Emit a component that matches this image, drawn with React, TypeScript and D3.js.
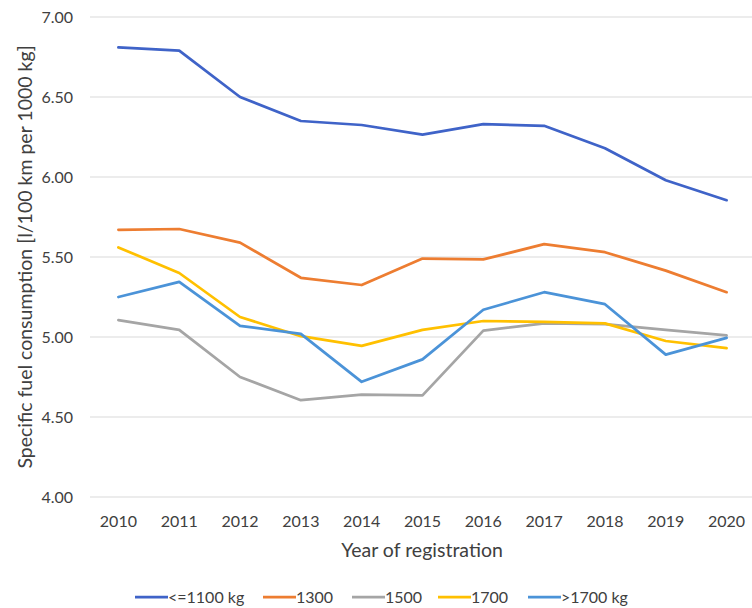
import React, {useEffect, useRef} from 'react'
import * as d3 from 'd3'

const years = ['2010', '2011', '2012', '2013', '2014', '2015', '2016', '2017', '2018', '2019', '2020'];
const yTicks = [4.0, 4.5, 5.0, 5.5, 6.0, 6.5, 7.0];

const seriesNames = ['<=1100 kg', '1300', '1500', '1700', '>1700 kg'];
const seriesColors = ['#3f63c8', '#ed7d31', '#a5a5a5', '#ffc000', '#4b93d8'];

const s1100 = [6.81, 6.79, 6.50, 6.35, 6.325, 6.265, 6.33, 6.32, 6.18, 5.98, 5.855];
const s1300 = [5.67, 5.675, 5.59, 5.37, 5.325, 5.49, 5.485, 5.58, 5.53, 5.415, 5.28];
const s1500 = [5.105, 5.045, 4.75, 4.605, 4.64, 4.635, 5.04, 5.085, 5.08, 5.045, 5.01];
const s1700 = [5.56, 5.40, 5.125, 5.005, 4.945, 5.045, 5.10, 5.095, 5.085, 4.975, 4.93];
const sOver = [5.25, 5.345, 5.07, 5.02, 4.72, 4.86, 5.17, 5.28, 5.205, 4.89, 4.995];

const seriesValues = [s1100, s1300, s1500, s1700, sOver];

const width = 752;
const height = 608;
const margin = ({top: 17, right: -5, bottom: 111, left: 88});
const font = 'Lato, "Open Sans", sans-serif';
const textColor = '#404040';

export default function App() {
    const ref = useRef<SVGSVGElement>(null);

    useEffect(() => {
        const svg = d3.select(ref.current);
        svg.selectAll('*').remove();

        const x = d3.scalePoint()
            .domain(years)
            .range([margin.left, width - margin.right])
            .padding(0.5);

        const y = d3.scaleLinear()
            .domain([4, 7])
            .range([height - margin.bottom, margin.top]);

        // gridlines
        svg.append('g')
            .selectAll('line')
            .data(yTicks)
            .join('line')
            .attr('x1', margin.left + 2)
            .attr('x2', width)
            .attr('y1', d => y(d))
            .attr('y2', d => y(d))
            .attr('stroke', '#d9d9d9')
            .attr('stroke-width', 1);

        // y tick labels
        svg.append('g')
            .selectAll('text')
            .data(yTicks)
            .join('text')
            .attr('x', 73)
            .attr('y', d => y(d))
            .attr('dy', '0.35em')
            .attr('text-anchor', 'end')
            .attr('font-family', font)
            .attr('font-size', 16)
            .attr('fill', textColor)
            .text(d => d3.format('.2f')(d));

        // x tick labels
        svg.append('g')
            .selectAll('text')
            .data(years)
            .join('text')
            .attr('x', d => x(d)!)
            .attr('y', 521)
            .attr('dy', '0.35em')
            .attr('text-anchor', 'middle')
            .attr('font-family', font)
            .attr('font-size', 16)
            .attr('fill', textColor)
            .text(d => d);

        // axis titles
        svg.append('text')
            .attr('transform', `translate(25,${y(5.5)}) rotate(-90)`)
            .attr('dy', '0.35em')
            .attr('text-anchor', 'middle')
            .attr('font-family', font)
            .attr('font-size', 19.5)
            .attr('fill', textColor)
            .text('Specific fuel consumption [l/100 km per 1000 kg]');

        svg.append('text')
            .attr('x', 422)
            .attr('y', 550)
            .attr('dy', '0.35em')
            .attr('text-anchor', 'middle')
            .attr('font-family', font)
            .attr('font-size', 19.5)
            .attr('fill', textColor)
            .text('Year of registration');

        const line = d3.line<number>()
            .x((d, i) => x(years[i])!)
            .y(d => y(d));

        svg.append('g')
            .attr('fill', 'none')
            .attr('stroke-width', 2.75)
            .attr('stroke-linejoin', 'round')
            .attr('stroke-linecap', 'round')
            .selectAll('path')
            .data(seriesValues)
            .join('path')
            .attr('stroke', (d, i) => seriesColors[i])
            .attr('d', d => line(d));

        // legend
        const legendX = [135, 263, 352, 438, 528];
        const legend = svg.append('g')
            .selectAll('g')
            .data(seriesNames)
            .join('g')
            .attr('transform', (d, i) => `translate(${legendX[i]},597)`);

        legend.append('line')
            .attr('x1', 0)
            .attr('x2', 33)
            .attr('stroke', (d, i) => seriesColors[i])
            .attr('stroke-width', 2.75);

        legend.append('text')
            .attr('x', 33)
            .attr('dy', '0.35em')
            .attr('font-family', font)
            .attr('font-size', 16)
            .attr('fill', textColor)
            .text(d => d);
    }, []);

    return <svg ref={ref} width={width} height={height}
                style={{position: 'absolute', left: 0, top: 0, background: '#fff'}}/>;
}
